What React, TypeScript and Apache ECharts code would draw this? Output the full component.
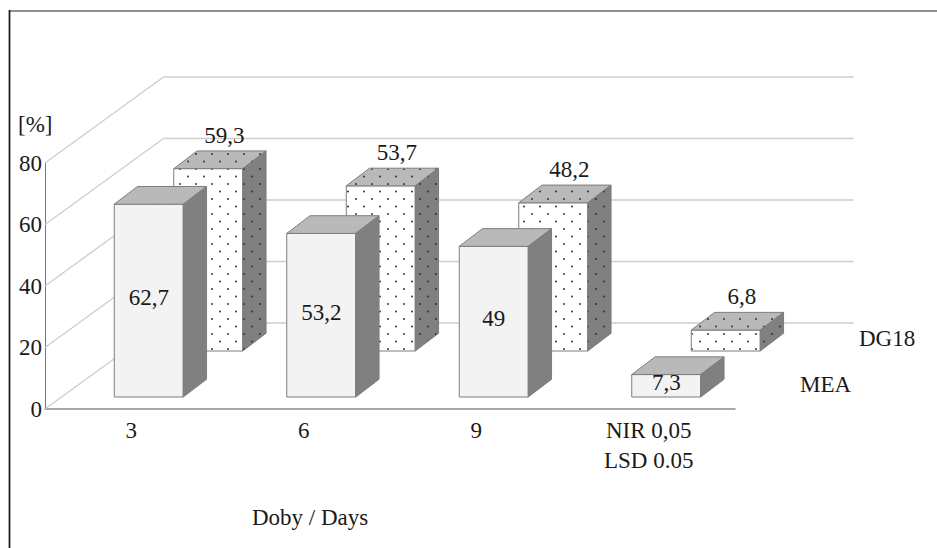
import React, { useEffect, useRef } from "react";
import * as echarts from "echarts";

const categories = ["3", "6", "9", "NIR 0,05\nLSD 0.05"];
const meaValues = [62.7, 53.2, 49, 7.3];
const dg18Values = [59.3, 53.7, 48.2, 6.8];
const yTicks = [0, 20, 40, 60, 80];
const seriesNames = ["MEA", "DG18"];
const unitLabel = "[%]";
const xTitle = "Doby / Days";

const FONT = '"Liberation Serif", "Times New Roman", serif';
const FS = 23;
const TEXT_COLOR = "#1a1a1a";
const WALL_DX = 118.5;
const WALL_DY = 86;
const BOX_DX = 23.3;
const BOX_DY = 17.7;
const ROW = { MEA: { dx: 17.5, dy: 12 }, DG18: { dx: 77, dy: 58 } };

function fmt(v: number) {
  return String(v).replace(".", ",");
}

function makeDotTile(bg: string) {
  const c = document.createElement("canvas");
  c.width = 16;
  c.height = 15;
  const ctx = c.getContext("2d")!;
  ctx.fillStyle = bg;
  ctx.fillRect(0, 0, 16, 15);
  ctx.fillStyle = "#2b2b2b";
  [
    [4, 4],
    [12, 11.5],
  ].forEach(([x, y]) => {
    ctx.beginPath();
    ctx.arc(x, y, 0.95, 0, Math.PI * 2);
    ctx.fill();
  });
  return c;
}

export default function App() {
  const ref = useRef<HTMLDivElement>(null);
  useEffect(() => {
    if (!ref.current) return;
    const chart = echarts.init(ref.current, undefined, { renderer: "svg" });

    const dotFront = { image: makeDotTile("#ffffff"), repeat: "repeat" };
    const dotTop = { image: makeDotTile("#b9b9bc"), repeat: "repeat" };
    const dotRight = { image: makeDotTile("#808082"), repeat: "repeat" };

    const makeRender = (row: { dx: number; dy: number }, dotted: boolean) =>
      (params: any, api: any) => {
        const ci = api.value(0);
        const v = api.value(1);
        const base = api.coord([ci, 0]);
        const top = api.coord([ci, v]);
        const bw = api.size([1, 0])[0] * 0.4;
        const cx = base[0] + row.dx;
        const x0 = cx - bw / 2;
        const x1 = cx + bw / 2;
        const yb = base[1] - row.dy;
        const yt = top[1] - row.dy;
        const stroke = "#7d7d7d";
        const frontFill = dotted ? dotFront : "#f2f3f2";
        const topFill = dotted ? dotTop : "#b9b9bc";
        const rightFill = dotted ? dotRight : "#808082";
        const children: any[] = [
          {
            type: "polygon",
            shape: { points: [[x0, yt], [x1, yt], [x1, yb], [x0, yb]] },
            style: { fill: frontFill, stroke, lineWidth: 1 },
          },
          {
            type: "polygon",
            shape: {
              points: [[x0, yt], [x0 + BOX_DX, yt - BOX_DY], [x1 + BOX_DX, yt - BOX_DY], [x1, yt]],
            },
            style: { fill: topFill, stroke, lineWidth: 1 },
          },
          {
            type: "polygon",
            shape: {
              points: [[x1, yt], [x1 + BOX_DX, yt - BOX_DY], [x1 + BOX_DX, yb - BOX_DY], [x1, yb]],
            },
            style: { fill: rightFill, stroke, lineWidth: 1 },
          },
        ];
        children.push({
          type: "text",
          style: {
            text: fmt(v),
            x: dotted ? cx + 16 : cx,
            y: dotted ? yt - 33.5 : (yt + yb) / 2 - 3,
            align: "center",
            verticalAlign: "middle",
            fontSize: FS,
            fontFamily: FONT,
            fill: TEXT_COLOR,
          },
        });
        return { type: "group", children };
      };

    chart.setOption({
      animation: false,
      grid: { left: 45, right: 202, top: 163, bottom: 139, containLabel: false, outerBoundsMode: "none" },
      xAxis: {
        type: "category",
        data: categories,
        axisLine: { show: true, lineStyle: { color: "#8a8a8a", width: 1.5 } },
        axisTick: { show: false },
        splitLine: { show: false },
        axisLabel: {
          margin: 6,
          fontSize: FS,
          lineHeight: 30,
          fontFamily: FONT,
          color: TEXT_COLOR,
          interval: 0,
        },
      },
      yAxis: {
        type: "value",
        min: 0,
        max: 80,
        interval: 20,
        axisLine: { show: true, lineStyle: { color: "#7070b4", width: 1 } },
        axisTick: { show: false },
        splitLine: { show: false },
        axisLabel: {
          margin: 3,
          fontSize: FS,
          fontFamily: FONT,
          color: TEXT_COLOR,
          formatter: (v: number) => (yTicks.includes(v) ? String(v) : ""),
        },
      },
      graphic: [
        {
          type: "line",
          shape: { x1: 9, y1: 11, x2: 937, y2: 11 },
          style: { stroke: "#909090", lineWidth: 2 },
          silent: true,
        },
        {
          type: "line",
          shape: { x1: 9.5, y1: 10, x2: 9.5, y2: 548 },
          style: { stroke: "#222222", lineWidth: 1.8 },
          silent: true,
        },
        {
          type: "text",
          left: 18,
          top: 113,
          style: { text: unitLabel, fontSize: FS, fontFamily: FONT, fill: TEXT_COLOR },
        },
        {
          type: "text",
          left: 252,
          top: 506,
          style: { text: xTitle, fontSize: FS, fontFamily: FONT, fill: TEXT_COLOR },
        },
        {
          type: "text",
          left: 859,
          top: 327,
          style: { text: seriesNames[1], fontSize: FS, fontFamily: FONT, fill: TEXT_COLOR },
        },
        {
          type: "text",
          left: 800,
          top: 373,
          style: { text: seriesNames[0], fontSize: FS, fontFamily: FONT, fill: TEXT_COLOR },
        },
      ],
      series: [
        {
          type: "custom",
          name: "walls",
          silent: true,
          z: 1,
          data: yTicks.map((v) => [0, v]),
          renderItem: (params: any, api: any) => {
            const v = api.value(1);
            const p = api.coord([0, v]);
            const cs = params.coordSys;
            const y = p[1];
            const st = { stroke: "#cdcdcd", lineWidth: 1.3 };
            return {
              type: "group",
              children: [
                {
                  type: "line",
                  shape: { x1: cs.x, y1: y, x2: cs.x + WALL_DX, y2: y - WALL_DY },
                  style: st,
                },
                {
                  type: "line",
                  shape: {
                    x1: cs.x + WALL_DX,
                    y1: y - WALL_DY,
                    x2: cs.x + cs.width + WALL_DX,
                    y2: y - WALL_DY,
                  },
                  style: st,
                },
              ],
            };
          },
        },
        {
          type: "custom",
          name: seriesNames[1],
          silent: true,
          z: 2,
          data: dg18Values.map((v, i) => [i, v]),
          renderItem: makeRender(ROW.DG18, true),
        },
        {
          type: "custom",
          name: seriesNames[0],
          silent: true,
          z: 3,
          data: meaValues.map((v, i) => [i, v]),
          renderItem: makeRender(ROW.MEA, false),
        },
      ],
    });
    return () => chart.dispose();
  }, []);
  return (
    <div
      ref={ref}
      style={{ position: "fixed", left: 0, top: 0, width: 937, height: 548, background: "#ffffff" }}
    />
  );
}
